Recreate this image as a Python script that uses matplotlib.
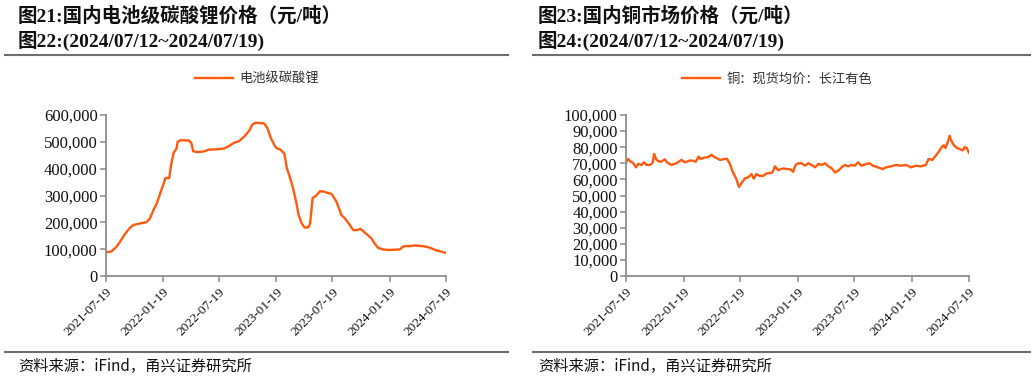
import matplotlib
matplotlib.use("Agg")
import matplotlib.pyplot as plt
import matplotlib.dates as mdates
from matplotlib.lines import Line2D
from matplotlib.ticker import FuncFormatter, MultipleLocator
import pandas as pd

# ── data ──────────────────────────────────────────────────────────────────────
li_dates = [
    "2021-07-19", "2021-08-06", "2021-08-22", "2021-09-02", "2021-09-18",
    "2021-10-02", "2021-10-15", "2021-11-06", "2021-11-27", "2021-12-08",
    "2021-12-19", "2021-12-30", "2022-01-10", "2022-01-23", "2022-01-26",
    "2022-02-08", "2022-02-13", "2022-02-22", "2022-03-03", "2022-03-07",
    "2022-03-16", "2022-04-12", "2022-04-20", "2022-04-26", "2022-05-09",
    "2022-05-30", "2022-06-15", "2022-07-12", "2022-08-03", "2022-08-19",
    "2022-09-04", "2022-09-20", "2022-10-07", "2022-10-23", "2022-11-03",
    "2022-11-13", "2022-12-10", "2022-12-21", "2023-01-01", "2023-01-12",
    "2023-01-19", "2023-02-01", "2023-02-14", "2023-02-22", "2023-03-03",
    "2023-03-14", "2023-03-25", "2023-04-01", "2023-04-11", "2023-04-20",
    "2023-05-02", "2023-05-08", "2023-05-16", "2023-05-27", "2023-06-09",
    "2023-06-20", "2023-07-06", "2023-07-16", "2023-08-01", "2023-08-17",
    "2023-08-28", "2023-09-13", "2023-09-24", "2023-10-07", "2023-10-17",
    "2023-11-06", "2023-11-22", "2023-12-02", "2023-12-13", "2023-12-29",
    "2024-01-16", "2024-02-21", "2024-03-02", "2024-03-13", "2024-03-24",
    "2024-04-09", "2024-05-06", "2024-05-27", "2024-06-17", "2024-07-19",
]
li_price = [
    88000, 92000, 109000, 127000, 156000,
    177000, 190000, 196000, 201000, 215000,
    246000, 271000, 309000, 352000, 365000,
    365000, 409000, 459000, 474000, 500000,
    506000, 505000, 496000, 465000, 462000,
    464000, 471000, 472000, 475000, 484000,
    496000, 502000, 519000, 540000, 565000,
    571000, 569000, 552000, 515000, 490000,
    477000, 471000, 456000, 402000, 371000,
    327000, 271000, 227000, 196000, 181000,
    181000, 196000, 290000, 299000, 316000,
    315000, 309000, 306000, 277000, 227000,
    215000, 190000, 171000, 171000, 176000,
    156000, 140000, 121000, 105000, 99000,
    97000, 99000, 109000, 112000, 111000,
    114000, 111000, 106000, 96000, 86000,
]

cu_dates = [
    "2021-07-19", "2021-07-26", "2021-08-03", "2021-08-11", "2021-08-20",
    "2021-08-27", "2021-09-07", "2021-09-14", "2021-09-23", "2021-10-03",
    "2021-10-12", "2021-10-17", "2021-10-23", "2021-10-30", "2021-11-09",
    "2021-11-20", "2021-11-27", "2021-12-11", "2021-12-27", "2022-01-12",
    "2022-01-23", "2022-02-08", "2022-02-16", "2022-02-27", "2022-03-08",
    "2022-03-14", "2022-03-28", "2022-04-07", "2022-04-18", "2022-04-29",
    "2022-05-15", "2022-05-31", "2022-06-07", "2022-06-16", "2022-06-26",
    "2022-07-07", "2022-07-15", "2022-07-23", "2022-08-03", "2022-08-13",
    "2022-08-24", "2022-08-31", "2022-09-09", "2022-09-19", "2022-09-30",
    "2022-10-11", "2022-10-21", "2022-10-30", "2022-11-07", "2022-11-17",
    "2022-12-03", "2022-12-19", "2022-12-29", "2023-01-04", "2023-01-12",
    "2023-01-20", "2023-02-01", "2023-02-11", "2023-02-22", "2023-03-04",
    "2023-03-15", "2023-03-26", "2023-04-05", "2023-04-16", "2023-04-27",
    "2023-05-08", "2023-05-18", "2023-05-28", "2023-06-08", "2023-06-18",
    "2023-06-29", "2023-07-09", "2023-07-20", "2023-07-31", "2023-08-10",
    "2023-08-26", "2023-09-05", "2023-09-16", "2023-10-02", "2023-10-18",
    "2023-10-28", "2023-11-13", "2023-11-29", "2023-12-15", "2023-12-31",
    "2024-01-16", "2024-01-31", "2024-02-16", "2024-03-03", "2024-03-12",
    "2024-03-24", "2024-04-04", "2024-04-14", "2024-04-23", "2024-04-30",
    "2024-05-05", "2024-05-14", "2024-05-18", "2024-05-24", "2024-06-01",
    "2024-06-11", "2024-06-22", "2024-06-29", "2024-07-05", "2024-07-11",
    "2024-07-19",
]
cu_price = [
    70600, 72700, 71000, 70200, 67500,
    69600, 69000, 70600, 69000, 69000,
    70200, 75900, 72700, 71300, 71000,
    72500, 70600, 69000, 70000, 72100,
    70600, 71700, 71700, 71000, 74200,
    72700, 73600, 73800, 75300, 73800,
    72100, 72700, 72700, 69600, 64300,
    60100, 55300, 57600, 60700, 61200,
    63300, 60500, 63300, 62200, 62200,
    63700, 63900, 64300, 68100, 65800,
    66800, 66400, 66000, 64700, 68900,
    70000, 70000, 68500, 70000, 69000,
    67500, 69600, 69000, 70000, 68100,
    66800, 64300, 65400, 67500, 69000,
    68100, 69000, 68500, 70600, 68500,
    69600, 70000, 68500, 67500, 66400,
    67500, 68100, 69000, 68500, 69000,
    67500, 68500, 68100, 69000, 72700,
    72100, 74800, 77400, 80100, 81200,
    79500, 84300, 87100, 83700, 81200,
    79500, 78600, 78000, 80100, 79700,
    76500,
]

tick_dates = ["2021-07-19", "2022-01-19", "2022-07-19", "2023-01-19",
              "2023-07-19", "2024-01-19", "2024-07-19"]

# ── style ─────────────────────────────────────────────────────────────────────
ORANGE = "#FF5A0E"
SPINE = "#8c8c8c"
SERIF = ["Liberation Serif", "Noto Sans CJK SC"]
CJK = ["Noto Sans CJK SC", "DejaVu Sans"]

fig = plt.figure(figsize=(10.32, 3.82), dpi=100)
W, H = 1032, 382


def px_axes(x0, x1, ytop, ybot):
    return fig.add_axes([x0 / W, 1 - ybot / H, (x1 - x0) / W, (ybot - ytop) / H])


def panel(ax, dates, values, label, ymax, ystep, legend_x):
    x = pd.to_datetime(dates)
    line, = ax.plot(x, values, color=ORANGE, lw=1.7, label=label)
    ticks = pd.to_datetime(tick_dates)
    ax.set_xlim(ticks[0], ticks[-1])
    ax.set_ylim(0, ymax)
    ax.yaxis.set_major_locator(MultipleLocator(ystep))
    ax.yaxis.set_major_formatter(FuncFormatter(lambda v, p: f"{v:,.0f}"))
    ax.set_xticks(ticks)
    ax.xaxis.set_major_formatter(mdates.DateFormatter("%Y-%m-%d"))
    for s in ("top", "right"):
        ax.spines[s].set_visible(False)
    for s in ("left", "bottom"):
        ax.spines[s].set_color(SPINE)
        ax.spines[s].set_linewidth(1.3)
    ax.tick_params(axis="both", color=SPINE, width=1.1, length=4, direction="out")
    for t in ax.get_yticklabels():
        t.set_fontfamily("Liberation Serif")
        t.set_fontsize(12)
        t.set_color("#111111")
    for t in ax.get_xticklabels():
        t.set_fontfamily("Liberation Serif")
        t.set_fontsize(9.5)
        t.set_rotation(45)
        t.set_ha("right")
        t.set_rotation_mode("anchor")
        t.set_color("#111111")
    ax.tick_params(axis="y", pad=2)
    ax.tick_params(axis="x", pad=3)
    leg = ax.legend(handles=[line], loc="center left", frameon=False,
                    bbox_to_anchor=(legend_x / W, 1 - 79 / H),
                    bbox_transform=fig.transFigure, handlelength=2.9,
                    handletextpad=0.5, borderaxespad=0, borderpad=0,
                    prop={"family": CJK, "size": 9.5})
    for t in leg.get_texts():
        t.set_color("#333333")


ax1 = px_axes(106, 446, 115, 276)
panel(ax1, li_dates, li_price, "电池级碳酸锂", 600000, 100000, 195)

ax2 = px_axes(626, 969, 115, 276)
panel(ax2, cu_dates, cu_price, "铜：现货均价：长江有色", 100000, 10000, 682)

# ── titles, rules and source notes ────────────────────────────────────────────
for x0, t1, t2 in [(18, "图21:国内电池级碳酸锂价格（元/吨）", "图22:(2024/07/12~2024/07/19)"),
                   (538, "图23:国内铜市场价格（元/吨）", "图24:(2024/07/12~2024/07/19)")]:
    fig.text(x0 / W, 1 - 16 / H, t1, family=SERIF, weight="bold", fontsize=14,
             va="center", ha="left", color="#111111")
    fig.text(x0 / W, 1 - 41 / H, t2, family=SERIF, weight="bold", fontsize=14,
             va="center", ha="left", color="#111111")
    fig.text(x0 / W, 1 - 366 / H, "资料来源：iFind，甬兴证券研究所", family=CJK,
             style="italic", fontsize=11, va="center", ha="left", color="#111111")

for xa, xb in [(5, 508), (533, 1030)]:
    for y in (55, 352):
        fig.add_artist(Line2D([xa / W, xb / W], [1 - y / H, 1 - y / H],
                              color="#6e6e6e", lw=1.5))

fig.savefig("out.png", dpi=100, facecolor="white")
